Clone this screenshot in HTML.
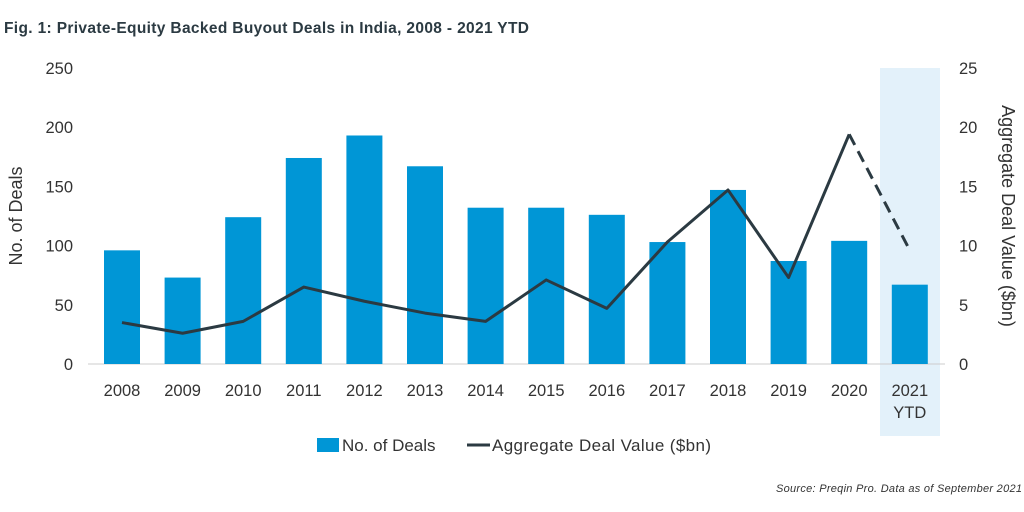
<!DOCTYPE html>
<html><head><meta charset="utf-8"><style>
body{margin:0;background:#fff;font-family:"Liberation Sans",sans-serif;}
svg{display:block}
</style></head><body>
<svg width="1024" height="512">
<text x="4" y="33" font-size="15.5" font-weight="bold" fill="#2b3a42" textLength="525">Fig. 1: Private-Equity Backed Buyout Deals in India, 2008 - 2021 YTD</text>
<rect x="880" y="68" width="60" height="368" fill="#e3f1fa"/>
<g id="axes"></g><g id="bars"></g><g id="line"></g>
<text transform="translate(22,216) rotate(-90)" text-anchor="middle" font-size="18" fill="#333">No. of Deals</text>
<text transform="translate(1002,216) rotate(90)" text-anchor="middle" font-size="18" fill="#333">Aggregate Deal Value ($bn)</text>
<rect x="317" y="438" width="22" height="14" fill="#0096d6"/>
<text x="342" y="451" font-size="17" fill="#333">No. of Deals</text>
<line x1="467" y1="445" x2="490" y2="445" stroke="#2b3a42" stroke-width="3"/>
<text x="492" y="451" font-size="17" fill="#333" textLength="219">Aggregate Deal Value ($bn)</text>
<text x="1022" y="492" text-anchor="end" font-size="11" font-style="italic" fill="#333" textLength="246">Source: Preqin Pro. Data as of September 2021</text>
</svg>
<script>
const categories=["2008","2009","2010","2011","2012","2013","2014","2015","2016","2017","2018","2019","2020","2021"];
const deals=[96,73,124,174,193,167,132,132,126,103,147,87,104,67];
const values=[3.5,2.6,3.6,6.5,5.3,4.3,3.6,7.1,4.7,10.3,14.7,7.3,19.4,9.6];
const leftTicks=[0,50,100,150,200,250];
const rightTicks=[0,5,10,15,20,25];
const NS="http://www.w3.org/2000/svg";
const y0=364,yTop=68,xFirst=122,step=60.6,bw=36;
const yL=v=>y0-(v/250)*(y0-yTop);
const yR=v=>y0-(v/25)*(y0-yTop);
const xC=i=>xFirst+i*step;
function mk(p,t,a){const e=document.createElementNS(NS,t);for(const k in a)e.setAttribute(k,a[k]);p.appendChild(e);return e;}
const ax=document.getElementById('axes');
leftTicks.forEach(v=>{const t=mk(ax,'text',{x:73,y:yL(v)+6,'text-anchor':'end','font-size':16.5,fill:'#333'});t.textContent=v;

});
rightTicks.forEach(v=>{const t=mk(ax,'text',{x:959,y:yR(v)+6,'font-size':16.5,fill:'#333'});t.textContent=v;

});
const base=mk(ax,'line',{x1:88,x2:945,y1:y0,y2:y0,stroke:'#ccc','stroke-width':1});


categories.forEach((c,i)=>{const t=mk(ax,'text',{x:xC(i),y:396,'text-anchor':'middle','font-size':16.5,fill:'#333'});t.textContent=c;


if(i===categories.length-1){const t2=mk(ax,'text',{x:xC(i),y:418,'text-anchor':'middle','font-size':16.5,fill:'#333'});t2.textContent='YTD';

}});
const bg=document.getElementById('bars');
deals.forEach((d,i)=>{const r=mk(bg,'rect',{x:xC(i)-bw/2,y:yL(d),width:bw,height:y0-yL(d),fill:'#0096d6'});

});
const lg=document.getElementById('line');
const n=values.length;
const pts=values.slice(0,n-1).map((v,i)=>xC(i)+','+yR(v)).join(' ');
const pl=mk(lg,'polyline',{points:pts,fill:'none',stroke:'#2b3a42','stroke-width':3,'stroke-linejoin':'round'});


const dl=mk(lg,'line',{x1:xC(n-2),y1:yR(values[n-2]),x2:xC(n-1),y2:yR(values[n-1]),stroke:'#2b3a42','stroke-width':3,'stroke-dasharray':'12,7'});


</script>
</body></html>
